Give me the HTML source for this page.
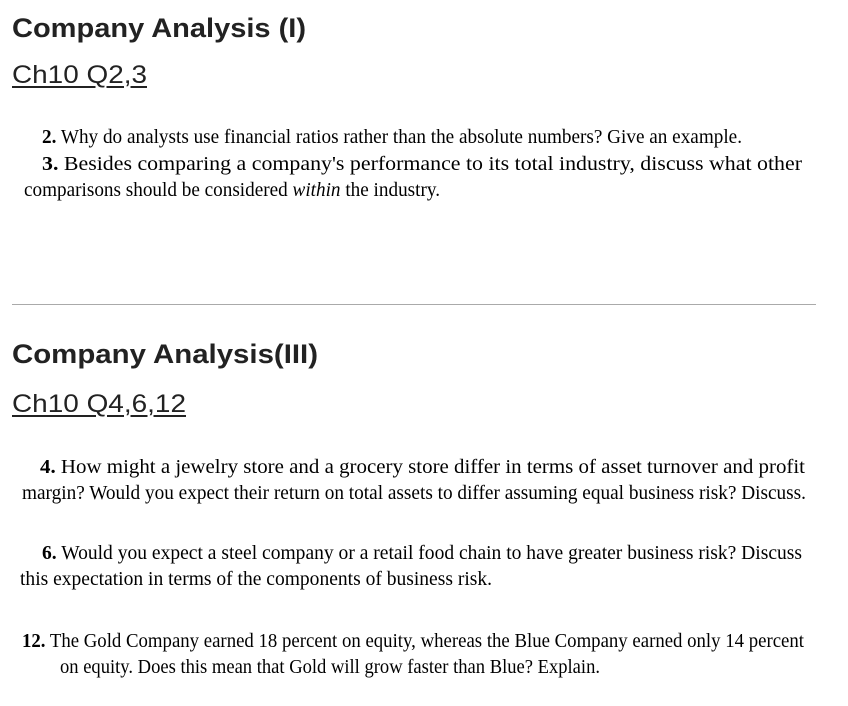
<!DOCTYPE html>
<html><head><meta charset="utf-8"><style>
body{margin:0;width:848px;height:706px;background:#fff;position:relative;overflow:hidden}
.l{position:absolute;white-space:nowrap;transform-origin:0 50%;line-height:1;color:#000}
.t{font-family:"Liberation Sans",sans-serif;font-weight:bold;font-size:27px;color:#222}
.c{font-family:"Liberation Sans",sans-serif;font-size:25px;color:#222;text-decoration:underline;text-decoration-thickness:2px;text-underline-offset:3px}
.s{font-family:"Liberation Serif",serif;font-size:19.5px}
hr{position:absolute;left:12px;top:304px;width:804px;margin:0;border:0;border-top:1px solid #aaa}
</style></head><body>
<div class="l t" data-x="12" data-y="28" data-w="294">Company Analysis (I)</div>
<div class="l c" data-x="12" data-y="75" data-w="135">Ch10 Q2,3</div>
<div class="l s" data-x="42" data-y="138" data-w="700"><b>2.</b> Why do analysts use financial ratios rather than the absolute numbers? Give an example.</div>
<div class="l s" data-x="42" data-y="165" data-w="760"><b>3.</b> Besides comparing a company's performance to its total industry, discuss what other</div>
<div class="l s" data-x="24" data-y="191" data-w="416">comparisons should be considered <i>within</i> the industry.</div>
<hr>
<div class="l t" data-x="12" data-y="354" data-w="306">Company Analysis(III)</div>
<div class="l c" data-x="12" data-y="404" data-w="174">Ch10 Q4,6,12</div>
<div class="l s" data-x="40" data-y="468" data-w="765"><b>4.</b> How might a jewelry store and a grocery store differ in terms of asset turnover and profit</div>
<div class="l s" data-x="22" data-y="494" data-w="784">margin? Would you expect their return on total assets to differ assuming equal business risk? Discuss.</div>
<div class="l s" data-x="42" data-y="554" data-w="760"><b>6.</b> Would you expect a steel company or a retail food chain to have greater business risk? Discuss</div>
<div class="l s" data-x="20" data-y="580" data-w="472">this expectation in terms of the components of business risk.</div>
<div class="l s" data-x="22" data-y="642" data-w="782"><b>12.</b> The Gold Company earned 18 percent on equity, whereas the Blue Company earned only 14 percent</div>
<div class="l s" data-x="60" data-y="668" data-w="540">on equity. Does this mean that Gold will grow faster than Blue? Explain.</div>
<script>
document.querySelectorAll('.l').forEach(function(e){
  var x=+e.dataset.x,y=+e.dataset.y,w=+e.dataset.w;
  var r=e.getBoundingClientRect();
  e.style.left=x+'px';
  e.style.top=(y-r.height/2)+'px';
  e.style.transform='scaleX('+(w/r.width)+')';
});
</script>
</body></html>
